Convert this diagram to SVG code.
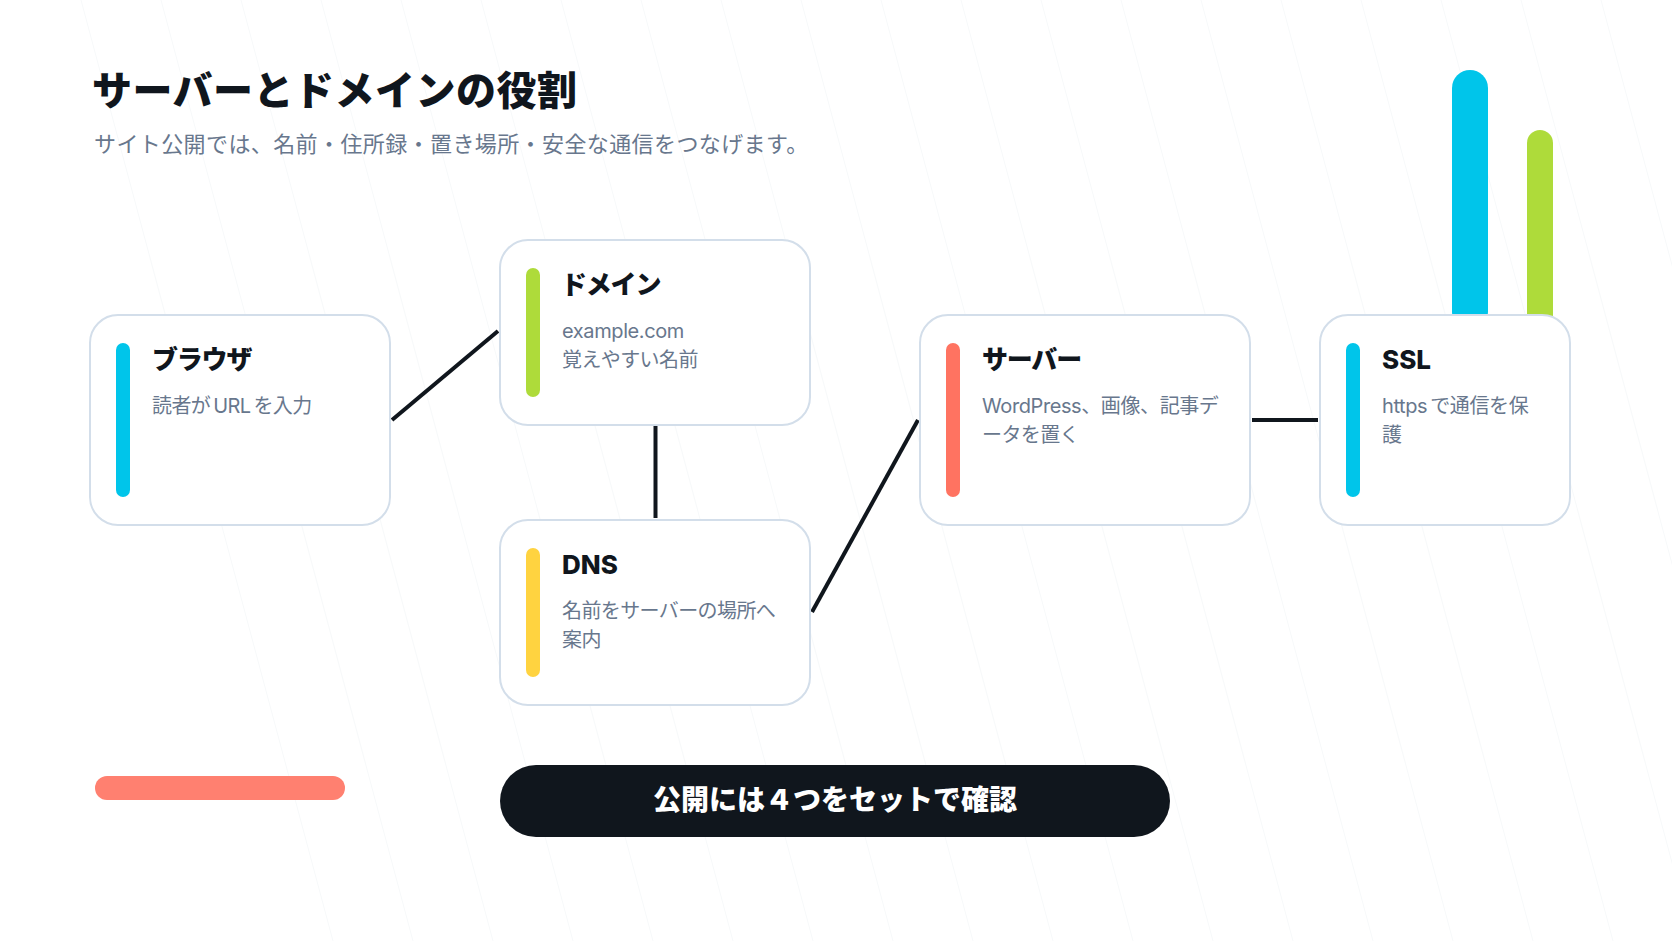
<svg xmlns="http://www.w3.org/2000/svg" width="1672" height="941" viewBox="0 0 1672 941">
<defs><style>
text{font-family:Inter,"Noto Sans CJK JP",sans-serif}
.hatch line{stroke:#f7f9fa;stroke-width:1}
.card{fill:#fff;stroke:#d3deea;stroke-width:2}
.t{font-size:26px;font-weight:800;fill:#10161d}
.tj{letter-spacing:-1.2px}
.d{font-size:20px;fill:#68778d;letter-spacing:-.6px}
.l{letter-spacing:-.4px}
.c line{stroke:#10161d;stroke-width:4}
</style></defs>
<rect width="1672" height="941" fill="#fff"/>
<g class="hatch" id="hatch">
<line x1="81" y1="0" x2="333" y2="941"/><line x1="161" y1="0" x2="413" y2="941"/><line x1="241" y1="0" x2="493" y2="941"/><line x1="321" y1="0" x2="573" y2="941"/><line x1="401" y1="0" x2="653" y2="941"/><line x1="481" y1="0" x2="733" y2="941"/><line x1="561" y1="0" x2="813" y2="941"/><line x1="641" y1="0" x2="893" y2="941"/><line x1="721" y1="0" x2="973" y2="941"/><line x1="801" y1="0" x2="1053" y2="941"/><line x1="881" y1="0" x2="1133" y2="941"/><line x1="961" y1="0" x2="1213" y2="941"/><line x1="1041" y1="0" x2="1293" y2="941"/><line x1="1121" y1="0" x2="1373" y2="941"/><line x1="1201" y1="0" x2="1453" y2="941"/><line x1="1281" y1="0" x2="1533" y2="941"/><line x1="1361" y1="0" x2="1613" y2="941"/><line x1="1441" y1="0" x2="1693" y2="941"/><line x1="1521" y1="0" x2="1773" y2="941"/><line x1="1601" y1="0" x2="1853" y2="941"/>
</g>
<rect x="1452" y="70" width="36" height="260" rx="18" fill="#00c5ea"/>
<rect x="1527" y="130" width="26" height="200" rx="13" fill="#aedb3a"/>
<rect x="95" y="776" width="250" height="24" rx="12" fill="#ff8070"/>
<text x="92" y="105" font-size="40" font-weight="900" fill="#10161d" letter-spacing=".5">サーバーとドメインの役割</text>
<text x="94" y="152" font-size="22" fill="#68778d" letter-spacing=".4">サイト公開では、名前・住所録・置き場所・安全な通信をつなげます。</text>
<g class="c" id="connectors">
<line x1="392" y1="420" x2="498" y2="331"/>
<line x1="655.5" y1="425" x2="655.5" y2="518"/>
<line x1="812" y1="612" x2="918" y2="420"/>
<line x1="1252" y1="420" x2="1318" y2="420"/>
</g>
<g id="browser"><rect class="card" x="90" y="315" width="300" height="210" rx="28"/><rect x="116" y="343" width="14" height="154" rx="7" fill="#00c5ea"/><text class="t tj" x="152" y="369">ブラウザ</text><text class="d" x="152" y="413">読者が<tspan dx="3">URL</tspan><tspan dx="3">を入力</tspan></text></g>
<g id="domain"><rect class="card" x="500" y="240" width="310" height="185" rx="28"/><rect x="526" y="268" width="14" height="129" rx="7" fill="#aedb3a"/><text class="t tj" x="561" y="294">ドメイン</text><text class="d l" x="562" y="338">example.com</text><text class="d" x="562" y="367">覚えやすい名前</text></g>
<g id="dns"><rect class="card" x="500" y="520" width="310" height="185" rx="28"/><rect x="526" y="548" width="14" height="129" rx="7" fill="#ffd340"/><text class="t" x="562" y="574">DNS</text><text class="d" x="562" y="618">名前をサーバーの場所へ</text><text class="d" x="562" y="647">案内</text></g>
<g id="server"><rect class="card" x="920" y="315" width="330" height="210" rx="28"/><rect x="946" y="343" width="14" height="154" rx="7" fill="#ff7361"/><text class="t tj" x="982" y="369">サーバー</text><text class="d l" x="982" y="413">WordPress、画像、記事デ</text><text class="d" x="982" y="442">ータを置く</text></g>
<g id="ssl"><rect class="card" x="1320" y="315" width="250" height="210" rx="28"/><rect x="1346" y="343" width="14" height="154" rx="7" fill="#00c5ea"/><text class="t" x="1382" y="369">SSL</text><text class="d l" x="1382" y="413">https<tspan dx="3">で通信を保</tspan></text><text class="d" x="1382" y="442">護</text></g>
<g id="cta"><rect x="500" y="765" width="670" height="72" rx="36" fill="#10161d"/><text x="835" y="810" text-anchor="middle" font-size="28" font-weight="900" fill="#fff">公開には４つをセットで確認</text></g>
</svg>
